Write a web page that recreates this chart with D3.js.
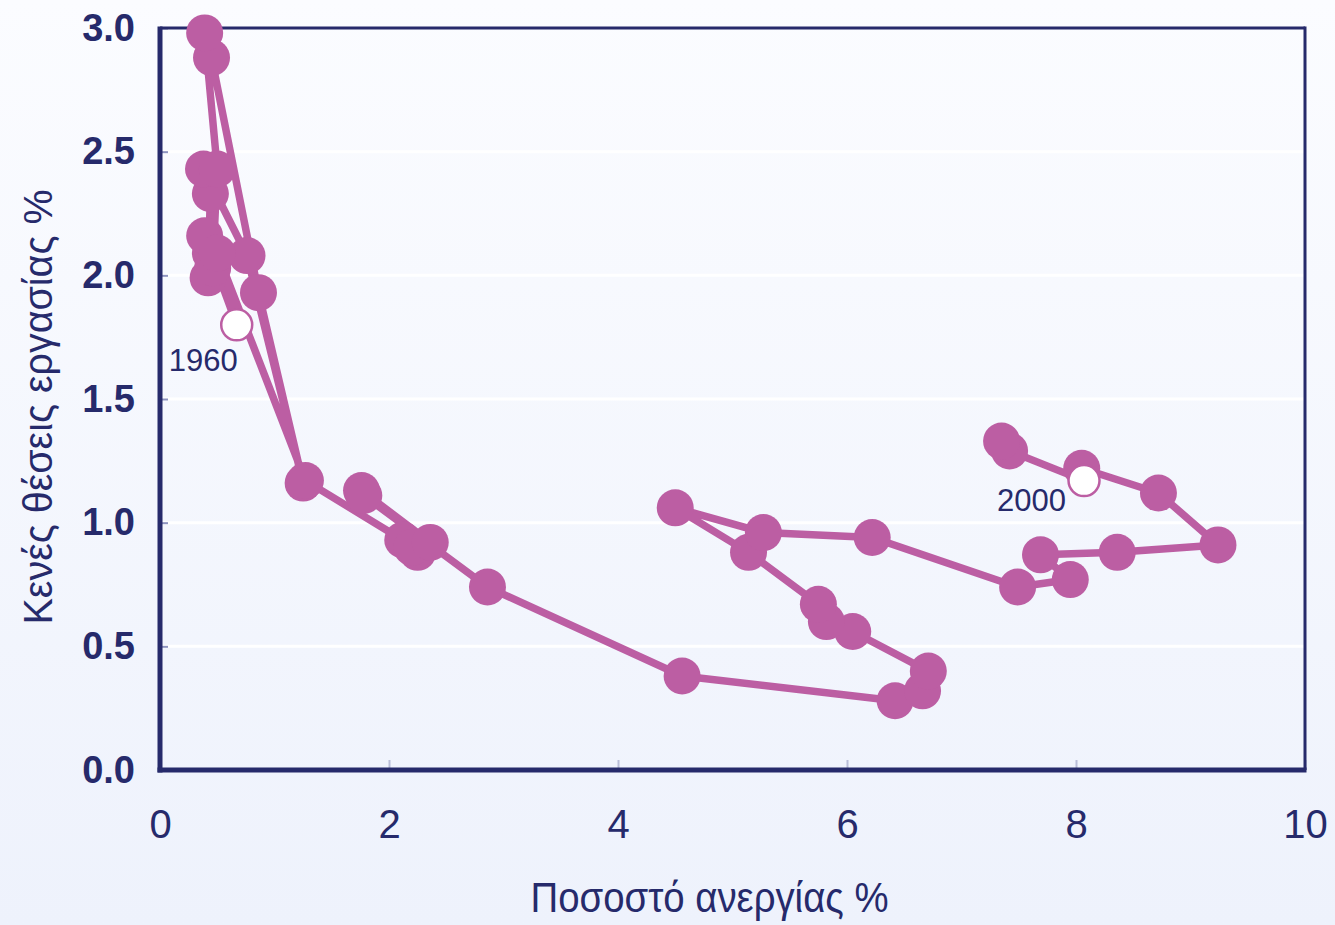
<!DOCTYPE html>
<html>
<head>
<meta charset="utf-8">
<script src="https://cdn.jsdelivr.net/npm/d3@7"></script>
<style>
  html, body { margin: 0; padding: 0; background: #f2f5fd; }
  svg { display: block; }
</style>
</head>
<body>
<script>
'use strict';

// Beveridge curve, 1960-2002: unemployment rate % vs vacancy rate %
var years = [1960, 1961, 1962, 1963, 1964, 1965, 1966, 1967, 1968, 1969,
             1970, 1971, 1972, 1973, 1974, 1975, 1976, 1977, 1978, 1979,
             1980, 1981, 1982, 1983, 1984, 1985, 1986, 1987, 1988, 1989,
             1990, 1991, 1992, 1993, 1994, 1995, 1996, 1997, 1998, 1999,
             2000, 2001, 2002];
var unemployment = [0.67, 0.44, 0.39, 0.42, 0.44, 0.38, 0.76, 1.25, 0.86, 0.45,
                    0.39, 0.50, 0.46, 0.50, 1.27, 2.12, 2.25, 2.20, 2.36, 1.76,
                    1.78, 2.86, 4.56, 6.42, 6.66, 6.71, 6.05, 5.82, 5.75, 5.14,
                    4.50, 5.27, 6.22, 7.49, 7.95, 7.69, 8.36, 9.24, 8.72, 8.05,
                    8.07, 7.42, 7.35];
var vacancies = [1.80, 2.09, 2.16, 1.99, 2.33, 2.43, 2.08, 1.16, 1.93, 2.88,
                 2.98, 2.43, 2.03, 2.09, 1.17, 0.93, 0.88, 0.90, 0.92, 1.13,
                 1.11, 0.74, 0.38, 0.28, 0.32, 0.40, 0.56, 0.60, 0.67, 0.88,
                 1.06, 0.96, 0.94, 0.74, 0.77, 0.87, 0.88, 0.91, 1.12, 1.22,
                 1.17, 1.29, 1.33];
var markedYears = [1960, 2000];

var xTicks = [0, 2, 4, 6, 8, 10];
var yTicks = [0, 0.5, 1.0, 1.5, 2.0, 2.5, 3.0];

var xTitle = 'Ποσοστό ανεργίας %';
var yTitle = 'Κενές θέσεις εργασίας %';

var width  = 1335;
var height = 925;

var navy = '#262a6b';
var pink = '#bc5ea3';

var margin = {top: 28, right: 30, bottom: 155, left: 160};

// where the year labels sit relative to their circles
var labelOffset = {1960: [1, 46], 2000: [-18, 30]};

var x = d3.scaleLinear().domain([0, 10]).range([margin.left, width - margin.right]);
var y = d3.scaleLinear().domain([0, 3]).range([height - margin.bottom, margin.top]);

var points = years.map(function(yr, i) {
  return {year: yr, u: unemployment[i], v: vacancies[i]};
});

var svg = d3.select('body').append('svg')
    .attr('width', width)
    .attr('height', height);

var defs = svg.append('defs');
var grad = defs.append('linearGradient')
    .attr('id', 'bg')
    .attr('x1', 0).attr('y1', 0).attr('x2', 0).attr('y2', 1);
grad.append('stop').attr('offset', '0%').attr('stop-color', '#fbfcff');
grad.append('stop').attr('offset', '100%').attr('stop-color', '#eef2fc');

svg.append('rect')
    .attr('width', width)
    .attr('height', height)
    .attr('fill', 'url(#bg)');

// white grid lines
svg.append('g')
  .selectAll('line')
  .data(yTicks.filter(function(d) { return d > 0 && d < 3; }))
  .enter().append('line')
    .attr('x1', x(0))
    .attr('x2', x(10))
    .attr('y1', function(d) { return y(d); })
    .attr('y2', function(d) { return y(d); })
    .attr('stroke', '#ffffff')
    .attr('stroke-width', 3);

// axes
var yAxis = d3.axisLeft(y)
    .tickValues(yTicks)
    .tickFormat(d3.format('.1f'))
    .tickSize(-8)
    .tickPadding(25);

var xAxis = d3.axisBottom(x)
    .tickValues(xTicks)
    .tickFormat(d3.format('d'))
    .tickSize(-10)
    .tickPadding(40);

var gy = svg.append('g')
    .attr('transform', 'translate(' + x(0) + ',0)')
    .call(yAxis);
gy.select('.domain').remove();
gy.selectAll('.tick line').attr('stroke', '#8d93bf').attr('stroke-width', 2);
gy.selectAll('.tick text')
    .attr('fill', navy)
    .style('font-family', '"Liberation Sans", Arial, sans-serif')
    .style('font-weight', 'bold')
    .style('font-size', '38px');

var gx = svg.append('g')
    .attr('transform', 'translate(0,' + y(0) + ')')
    .call(xAxis);
gx.select('.domain').remove();
gx.selectAll('.tick line').attr('stroke', '#b9bdd8').attr('stroke-width', 2);
gx.selectAll('.tick text')
    .attr('fill', navy)
    .style('font-family', '"Liberation Sans Narrow", "Liberation Sans", Arial, sans-serif')
    .style('font-size', '40px');

// frame
svg.append('line')
    .attr('x1', x(0)).attr('x2', x(10))
    .attr('y1', y(3)).attr('y2', y(3))
    .attr('stroke', navy).attr('stroke-width', 3);
svg.append('line')
    .attr('x1', x(10)).attr('x2', x(10))
    .attr('y1', y(3) - 1.5).attr('y2', y(0))
    .attr('stroke', navy).attr('stroke-width', 3);
svg.append('line')
    .attr('x1', x(0)).attr('x2', x(0))
    .attr('y1', y(3) - 1.5).attr('y2', y(0) + 2.5)
    .attr('stroke', navy).attr('stroke-width', 5);
svg.append('line')
    .attr('x1', x(0) - 2.5).attr('x2', x(10) + 1.5)
    .attr('y1', y(0)).attr('y2', y(0))
    .attr('stroke', navy).attr('stroke-width', 5);

// path
var line = d3.line()
    .x(function(d) { return x(d.u); })
    .y(function(d) { return y(d.v); });

svg.append('path')
    .datum(points)
    .attr('d', line)
    .attr('fill', 'none')
    .attr('stroke', pink)
    .attr('stroke-width', 7.5)
    .attr('stroke-linejoin', 'round');

svg.append('g')
  .selectAll('circle')
  .data(points.filter(function(d) { return markedYears.indexOf(d.year) < 0; }))
  .enter().append('circle')
    .attr('cx', function(d) { return x(d.u); })
    .attr('cy', function(d) { return y(d.v); })
    .attr('r', 18.5)
    .attr('fill', pink);

var marked = points.filter(function(d) { return markedYears.indexOf(d.year) >= 0; });

svg.append('g')
  .selectAll('circle')
  .data(marked)
  .enter().append('circle')
    .attr('cx', function(d) { return x(d.u); })
    .attr('cy', function(d) { return y(d.v); })
    .attr('r', 15.5)
    .attr('fill', '#ffffff')
    .attr('stroke', pink)
    .attr('stroke-width', 2.5);

svg.append('g')
  .selectAll('text')
  .data(marked)
  .enter().append('text')
    .attr('x', function(d) { return x(d.u) + labelOffset[d.year][0]; })
    .attr('y', function(d) { return y(d.v) + labelOffset[d.year][1]; })
    .attr('text-anchor', 'end')
    .attr('fill', navy)
    .style('font-family', '"Liberation Sans", Arial, sans-serif')
    .style('font-size', '31px')
    .text(function(d) { return d.year; });

// titles
svg.append('text')
    .attr('x', (x(0) + x(10)) / 2 - 23)
    .attr('y', 912)
    .attr('text-anchor', 'middle')
    .attr('fill', navy)
    .attr('textLength', 358)
    .attr('lengthAdjust', 'spacingAndGlyphs')
    .style('font-family', '"Liberation Sans Narrow", "Liberation Sans", Arial, sans-serif')
    .style('font-size', '42px')
    .text(xTitle);

svg.append('text')
    .attr('transform', 'translate(52,407) rotate(-90)')
    .attr('text-anchor', 'middle')
    .attr('fill', navy)
    .attr('textLength', 435)
    .attr('lengthAdjust', 'spacingAndGlyphs')
    .style('font-family', '"Liberation Sans Narrow", "Liberation Sans", Arial, sans-serif')
    .style('font-size', '40px')
    .text(yTitle);
</script>
</body>
</html>
